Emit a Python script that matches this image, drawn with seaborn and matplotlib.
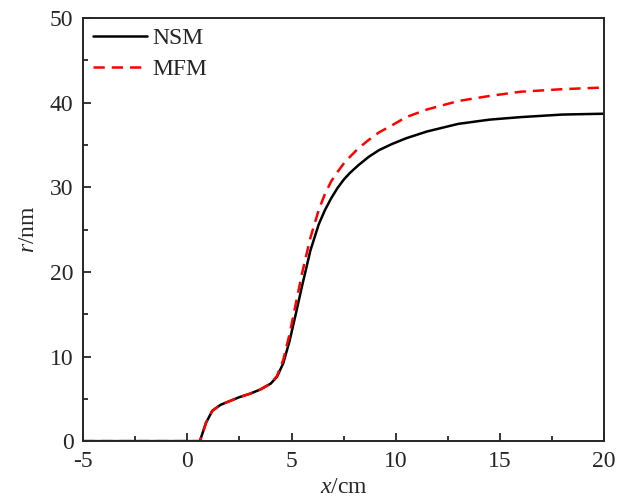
# IMPORT LIBRARIES
import numpy as np
import pandas as pd
import matplotlib
matplotlib.use("Agg")
import matplotlib.pyplot as plt
import seaborn as sns
from matplotlib.ticker import MultipleLocator

# DATA
x_nsm = [-5, 0.6, 0.9, 1.2, 1.6, 2.0, 2.5, 3.0, 3.5, 4.0, 4.3, 4.6, 4.9, 5.2, 5.5,
         5.9, 6.3, 6.6, 6.9, 7.2, 7.5, 7.8, 8.2, 8.7, 9.2, 9.8, 10.5, 11.5, 13.0,
         14.5, 16.0, 18.0, 20.0]
r_nsm = [0, 0, 2.2, 3.6, 4.3, 4.7, 5.2, 5.6, 6.1, 6.8, 7.6, 9.2, 11.8, 15.0, 18.3,
         22.5, 25.6, 27.3, 28.7, 29.9, 30.9, 31.7, 32.6, 33.6, 34.4, 35.1, 35.8, 36.6, 37.5,
         38.0, 38.3, 38.6, 38.7]

x_mfm = [-5, 0.6, 0.9, 1.2, 1.6, 2.0, 2.5, 3.0, 3.5, 4.0, 4.3, 4.6, 4.9, 5.2, 5.5,
         5.9, 6.3, 6.6, 6.9, 7.2, 7.5, 7.8, 8.2, 8.7, 9.2, 9.8, 10.5, 11.5, 13.0,
         14.5, 16.0, 18.0, 20.0]
r_mfm = [0, 0, 2.2, 3.6, 4.3, 4.7, 5.2, 5.6, 6.1, 6.8, 7.7, 9.6, 12.6, 16.2, 19.8,
         24.0, 27.3, 29.2, 30.7, 31.8, 32.8, 33.6, 34.6, 35.6, 36.5, 37.3, 38.3, 39.2, 40.2,
         40.8, 41.3, 41.6, 41.8]

df = pd.concat([
    pd.DataFrame({"x": x_nsm, "r": r_nsm, "model": "NSM"}),
    pd.DataFrame({"x": x_mfm, "r": r_mfm, "model": "MFM"}),
])

# STYLE
sns.set_style("ticks")
plt.rcParams["font.family"] = ["Liberation Serif", "DejaVu Serif"]
plt.rcParams["mathtext.fontset"] = "custom"
plt.rcParams["mathtext.rm"] = "Liberation Serif"
plt.rcParams["mathtext.it"] = "Liberation Serif:italic"
plt.rcParams["axes.unicode_minus"] = False

fig = plt.figure(figsize=(6.3, 5.03), dpi=100)
ax = fig.add_axes([0.132, 0.123, 0.827, 0.841])

sns.lineplot(data=df, x="x", y="r", hue="model", style="model",
             palette={"NSM": "black", "MFM": "red"},
             dashes={"NSM": "", "MFM": (4.5, 2.8)},
             linewidth=1.8, sort=False, estimator=None, ax=ax)

ax.set_xlim(-5, 20)
ax.set_ylim(0, 50)
ax.xaxis.set_major_locator(MultipleLocator(5))
ax.xaxis.set_minor_locator(MultipleLocator(2.5))
ax.yaxis.set_major_locator(MultipleLocator(10))
ax.yaxis.set_minor_locator(MultipleLocator(5))
ax.tick_params(which="both", direction="in", labelsize=17, width=1.3)
ax.tick_params(which="major", length=6, pad=7)
ax.tick_params(which="minor", length=3.5)
for s in ax.spines.values():
    s.set_linewidth(1.4)

ax.set_xlabel("$x$/cm", fontsize=17, labelpad=4)
ax.set_ylabel("$r$/nm", fontsize=17, labelpad=8)

ax.legend(loc="upper left", frameon=False, fontsize=17, handlelength=2.3,
          handletextpad=0.25, borderaxespad=0.0, labelspacing=0.4)

fig.savefig("out.png", dpi=100)
